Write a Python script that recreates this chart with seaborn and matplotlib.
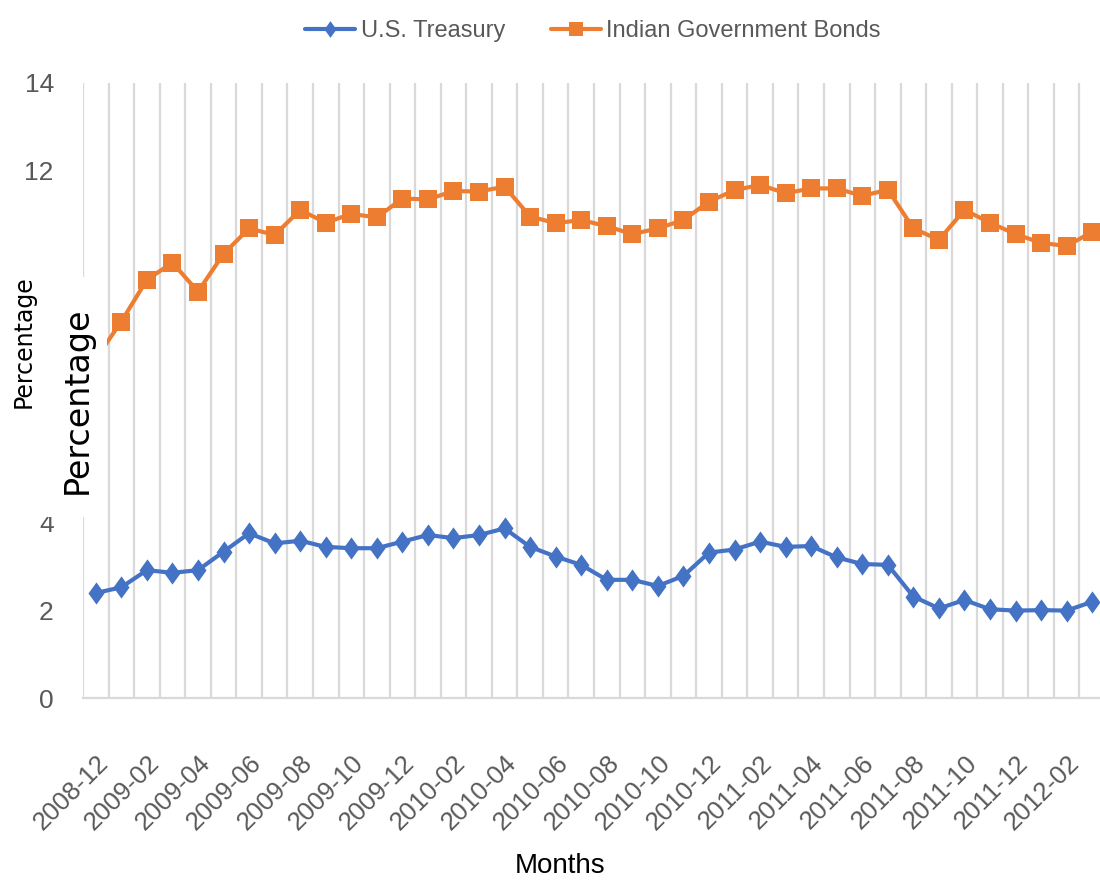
import numpy as np
import pandas as pd
import matplotlib
matplotlib.use("Agg")
import matplotlib.pyplot as plt
from matplotlib.patches import Rectangle
import seaborn as sns

# month categories (one point per month)
months = [
    "2008-12", "2009-01", "2009-02", "2009-03", "2009-04", "2009-05", "2009-06",
    "2009-07", "2009-08", "2009-09", "2009-10", "2009-11", "2009-12", "2010-01",
    "2010-02", "2010-03", "2010-04", "2010-05", "2010-06", "2010-07", "2010-08",
    "2010-09", "2010-10", "2010-11", "2010-12", "2011-01", "2011-02", "2011-03",
    "2011-04", "2011-05", "2011-06", "2011-07", "2011-08", "2011-09", "2011-10",
    "2011-11", "2011-12", "2012-01", "2012-02", "2012-03",
]

us_treasury = [2.39, 2.52, 2.91, 2.85, 2.91, 3.33, 3.75, 3.52, 3.58, 3.44,
               3.41, 3.41, 3.56, 3.71, 3.64, 3.71, 3.86, 3.44, 3.22, 3.03,
               2.69, 2.69, 2.55, 2.78, 3.31, 3.38, 3.56, 3.44, 3.46, 3.20,
               3.05, 3.03, 2.31, 2.04, 2.23, 2.02, 1.99, 2.00, 1.99, 2.19]

indian_bonds = [7.72, 8.57, 9.52, 9.91, 9.25, 10.11, 10.69, 10.54, 11.11, 10.82,
                11.02, 10.94, 11.37, 11.35, 11.54, 11.53, 11.64, 10.96, 10.81, 10.88,
                10.74, 10.56, 10.69, 10.88, 11.30, 11.56, 11.68, 11.49, 11.60, 11.60,
                11.43, 11.57, 10.69, 10.43, 11.11, 10.82, 10.56, 10.36, 10.29, 10.61]

series_names = ["U.S. Treasury", "Indian Government Bonds"]
y_ticks = [0, 2, 4, 6, 8, 10, 12, 14]

sns.set_theme(style="white")
plt.rcParams["font.family"] = ["Liberation Sans", "DejaVu Sans"]

df = pd.DataFrame({
    "pos": list(range(len(months))) * 2,
    "value": us_treasury + indian_bonds,
    "series": [series_names[0]] * len(months) + [series_names[1]] * len(months),
})

W, H = 1100, 880
fig = plt.figure(figsize=(W / 100, H / 100), dpi=100)
ax = fig.add_axes([83 / W, 182 / H, 1022 / W, 615 / H])

diamond = [(0, 1), (0.72, 0), (0, -1), (-0.72, 0), (0, 1)]
sns.lineplot(data=df, x="pos", y="value", hue="series", style="series",
             palette={series_names[0]: "#4472C4", series_names[1]: "#ED7D31"},
             markers={series_names[0]: diamond, series_names[1]: "s"},
             dashes=False, linewidth=3, markersize=16, markeredgewidth=0,
             ax=ax, legend="brief")
# squares a little smaller than the diamonds
for line in ax.lines:
    if line.get_marker() == "s":
        line.set_markersize(13)

ax.set_xlim(-0.5, len(months) - 0.5)
ax.set_ylim(0, 14)
ax.set_yticks(y_ticks)
ax.set_yticklabels([str(t) for t in y_ticks])
ax.set_xticks(range(0, len(months), 2))
ax.set_xticklabels(months[::2], rotation=45, ha="right", rotation_mode="anchor")
ax.set_xticks(np.arange(-0.5, len(months), 1), minor=True)
ax.grid(which="minor", axis="x", color="#D9D9D9", linewidth=1.6)
ax.grid(which="major", axis="both", visible=False)
ax.tick_params(axis="both", which="both", length=0)
ax.tick_params(axis="y", labelsize=19, labelcolor="#595959", pad=21)
ax.tick_params(axis="x", labelsize=18.5, labelcolor="#595959", pad=38)
ax.set_xlabel("")
ax.set_ylabel("")
for side in ["left", "right", "top"]:
    ax.spines[side].set_visible(False)
ax.spines["bottom"].set_color("#D9D9D9")
ax.spines["bottom"].set_linewidth(1.6)

handles, labels = ax.get_legend_handles_labels()
ax.legend(handles, labels, loc="center", bbox_to_anchor=(593 / W, 1 - 31 / H),
          bbox_transform=fig.transFigure, ncol=2, frameon=False, fontsize=17,
          labelcolor="#595959", handlelength=2.1, handletextpad=0.25,
          columnspacing=1.95, markerscale=0.75)

fig.text(560 / W, 1 - 853 / H, "Months", ha="center", va="top",
         fontsize=20, color="black")

# white blocks covering part of the y axis, with the two axis titles on them
fig.add_artist(Rectangle((0, 1 - 517 / H), 107 / W, 240 / H,
                         transform=fig.transFigure, facecolor="white",
                         edgecolor="none", zorder=5))
fig.add_artist(Rectangle((0, 1 - 277 / H), 56 / W, 37 / H,
                         transform=fig.transFigure, facecolor="white",
                         edgecolor="none", zorder=5))
fig.text(24 / W, 1 - 342 / H, "Percentage", rotation=90, ha="center",
         va="center", fontsize=17, color="black", family="DejaVu Sans", zorder=6)
fig.text(77 / W, 1 - 400 / H, "Percentage", rotation=90, ha="center",
         va="center", fontsize=24, color="black", family="DejaVu Sans", zorder=6)

fig.savefig("out.png", dpi=100)
